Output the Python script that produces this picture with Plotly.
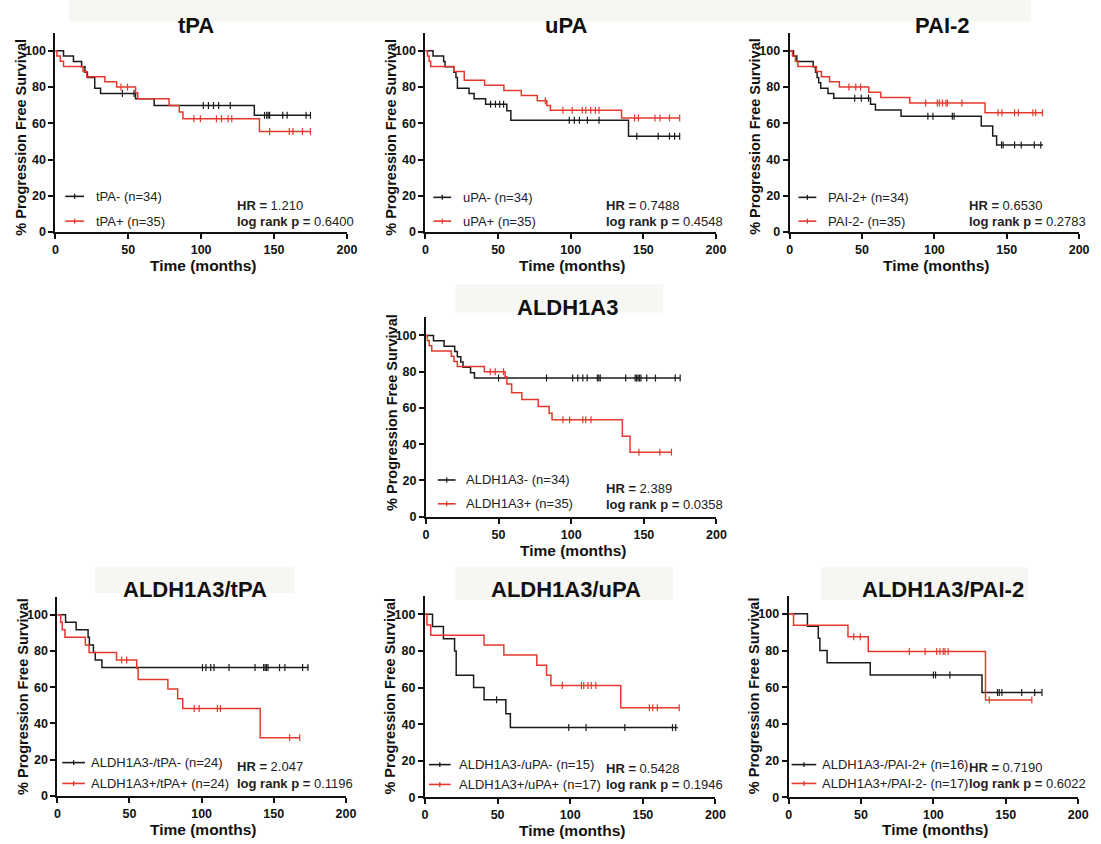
import plotly.graph_objects as go

W, H = 1101, 844
BLACK = "#1b1b1b"
RED = "#e5392d"
FONT = "Liberation Sans, Arial, sans-serif"

# ---------------- data ----------------
# Panel 1: tPA
tpa_neg_t = [0, 5.6, 12.4, 18, 20.3, 22, 27, 31, 55, 67.8, 136.5, 175]
tpa_neg_s = [100, 97.1, 94.1, 91.2, 88.2, 85.3, 79.4, 76.5, 73.5, 69.8, 64.4, 64.4]
tpa_neg_c = [46, 54, 101.5, 105, 108.5, 112, 120, 143.5, 145, 146, 147, 156, 159, 172, 175]
tpa_pos_t = [0, 1, 3.4, 5.6, 19, 21.5, 34, 42, 55, 56.5, 78, 85, 87.5, 140, 175]
tpa_pos_s = [100, 97.1, 94.3, 91.4, 88.6, 85.7, 82.9, 80.0, 76.9, 73.5, 69.8, 66.2, 62.5, 55.5, 55.5]
tpa_pos_c = [45, 49.5, 95, 99.5, 110.5, 114, 118.5, 121, 147, 160.5, 163, 169.5, 175]

# Panel 2: uPA
upa_neg_t = [0, 5.2, 12.5, 13.5, 19.5, 21, 22, 30, 33.5, 41.4, 56, 58.8, 139.8, 175]
upa_neg_s = [100, 97.1, 94.1, 91.2, 88.2, 85.3, 79.4, 76.5, 73.5, 70.6, 67.0, 61.7, 52.9, 52.9]
upa_neg_c = [44.8, 48.2, 51.1, 53.8, 99, 102.5, 106, 111.5, 119.5, 145.5, 160.2, 168, 171.5, 175]
upa_pos_t = [0, 1.4, 2.5, 3.6, 19.5, 26.7, 40.7, 54, 66, 77, 83.5, 86, 135, 175]
upa_pos_s = [100, 97.1, 94.3, 91.4, 88.6, 83.8, 81.0, 78.1, 75.3, 72.5, 69.8, 67.2, 63.0, 63.0]
upa_pos_c = [82.5, 94.6, 101, 108, 110.4, 113.8, 117, 119.5, 144, 146.6, 158, 161.5, 168, 175]

# Panel 3: PAI-2
pai_pos_t = [0, 2.7, 5, 16.3, 17.9, 19, 20.1, 21.5, 26.5, 30.5, 55.9, 59.3, 77, 132.4, 140.3, 143, 175]
pai_pos_s = [100, 97.1, 94.1, 91.2, 88.2, 85.3, 82.4, 79.4, 76.5, 73.9, 70.6, 67.4, 63.9, 58.5, 53.0, 48.1, 48.1]
pai_pos_c = [45, 49.5, 54.5, 95.5, 99, 112.4, 113.6, 146.4, 147.5, 155.4, 160, 169, 173.5]
pai_neg_t = [0, 2, 4, 5.7, 18.5, 22, 27.6, 34.4, 54.7, 63, 83, 135, 175]
pai_neg_s = [100, 97.1, 94.3, 91.4, 88.6, 85.7, 82.9, 80.0, 77.1, 74.3, 71.2, 65.8, 65.8]
pai_neg_c = [41, 45.7, 49, 94, 102, 103.4, 105.6, 108, 109, 119, 144, 146.6, 155.4, 158, 168, 170, 174.7]

# Panel 4: ALDH1A3
ald_neg_t = [0, 5.2, 12.5, 19.8, 21.6, 24, 25.5, 30.7, 33.4, 175]
ald_neg_s = [100, 97.1, 94.1, 91.2, 88.2, 85.3, 82.4, 79.4, 76.5, 76.5]
ald_neg_c = [50, 83, 101, 104.5, 108, 111, 118, 119, 120, 137.5, 144, 145, 146, 147, 148, 152, 158, 171.6, 175]
ald_pos_t = [0, 1, 2.3, 4, 17.5, 19.3, 21.6, 40.2, 54.5, 55.7, 59, 66, 77.3, 84.8, 86.8, 135.2, 140.5, 169]
ald_pos_s = [100, 97.1, 94.3, 91.4, 88.6, 85.7, 82.9, 80.0, 77.2, 73.2, 68.4, 64.6, 60.8, 57.1, 53.5, 44.4, 35.6, 35.6]
ald_pos_c = [44.3, 47.7, 53.4, 94.3, 98.9, 108, 110, 113.6, 146.6, 161, 169]

# Panel 5: ALDH1A3/tPA
at_neg_t = [0, 5.7, 13, 21.3, 22.2, 25, 26.3, 30.9, 174]
at_neg_s = [100, 95.8, 91.7, 87.5, 83.3, 79.2, 75.0, 70.8, 70.8]
at_neg_c = [100.6, 103, 106.3, 108.6, 119, 137, 143, 144, 145, 146, 154, 157.7, 170, 173.7]
at_pos_t = [0, 2.3, 3.4, 5.3, 19.4, 22, 41, 55, 56, 76.6, 83.4, 86.9, 140.6, 168]
at_pos_s = [100, 95.8, 91.7, 87.5, 83.3, 79.2, 75.0, 70.5, 64.3, 59.0, 53.6, 48.2, 32.1, 32.1]
at_pos_c = [44.6, 48, 94.9, 98.3, 110.9, 113, 161, 168]

# Panel 6: ALDH1A3/uPA
au_neg_t = [0, 5.2, 12.7, 20.4, 21.5, 33.5, 40.7, 55.7, 58.8, 174]
au_neg_s = [100, 93.3, 86.7, 80.0, 66.7, 60.0, 53.3, 45.7, 38.1, 38.1]
au_neg_c = [49.3, 99, 110.9, 137.6, 170.4, 172.6]
au_pos_t = [0, 1.4, 4, 40.7, 54.3, 77, 83.7, 86.7, 134.8, 175]
au_pos_s = [100, 94.1, 88.6, 83.3, 77.8, 72.2, 66.7, 61.1, 48.9, 48.9]
au_pos_c = [94.6, 107.7, 109.3, 112.2, 114.5, 117.6, 154.5, 156.8, 160, 175]

# Panel 7: ALDH1A3/PAI-2
ap_neg_t = [0, 13, 20.5, 21.6, 26.6, 56.4, 133.6, 175]
ap_neg_s = [100, 93.3, 86.7, 80.0, 73.3, 66.7, 57.1, 57.1]
ap_neg_c = [100, 101.5, 111.4, 144.3, 145.5, 147.3, 161, 170, 175]
ap_pos_t = [0, 3.4, 41, 55, 136, 168]
ap_pos_s = [100, 93.8, 87.5, 79.5, 53.0, 53.0]
ap_pos_c = [45, 49.5, 83.4, 94.3, 102.3, 104.5, 106.8, 108, 110.2, 138.6, 168]

panel_titles = ["tPA", "uPA", "PAI-2", "ALDH1A3", "ALDH1A3/tPA", "ALDH1A3/uPA", "ALDH1A3/PAI-2"]
legend_black = ["tPA- (n=34)", "uPA- (n=34)", "PAI-2+ (n=34)", "ALDH1A3- (n=34)",
                "ALDH1A3-/tPA- (n=24)", "ALDH1A3-/uPA- (n=15)", "ALDH1A3-/PAI-2+ (n=16)"]
legend_red = ["tPA+ (n=35)", "uPA+ (n=35)", "PAI-2- (n=35)", "ALDH1A3+ (n=35)",
              "ALDH1A3+/tPA+ (n=24)", "ALDH1A3+/uPA+ (n=17)", "ALDH1A3+/PAI-2- (n=17)"]
hr_values = ["1.210", "0.7488", "0.6530", "2.389", "2.047", "0.5428", "0.7190"]
p_values = ["0.6400", "0.4548", "0.2783", "0.0358", "0.1196", "0.1946", "0.6022"]
x_ticks = [0, 50, 100, 150, 200]
y_ticks = [0, 20, 40, 60, 80, 100]

black_curves = [(tpa_neg_t, tpa_neg_s, tpa_neg_c), (upa_neg_t, upa_neg_s, upa_neg_c),
                (pai_pos_t, pai_pos_s, pai_pos_c), (ald_neg_t, ald_neg_s, ald_neg_c),
                (at_neg_t, at_neg_s, at_neg_c), (au_neg_t, au_neg_s, au_neg_c),
                (ap_neg_t, ap_neg_s, ap_neg_c)]
red_curves = [(tpa_pos_t, tpa_pos_s, tpa_pos_c), (upa_pos_t, upa_pos_s, upa_pos_c),
              (pai_neg_t, pai_neg_s, pai_neg_c), (ald_pos_t, ald_pos_s, ald_pos_c),
              (at_pos_t, at_pos_s, at_pos_c), (au_pos_t, au_pos_s, au_pos_c),
              (ap_pos_t, ap_pos_s, ap_pos_c)]

# ---------------- layout geometry (pixels) ----------------
# plot frame: left(x=0), right(x=200), top(y=110), bottom(y=0)
frames = [(53, 348, 33, 234), (427.5, 721.5, 33, 234), (796, 1089, 33, 234),
          (428, 722, 320, 521),
          (55, 347, 601.5, 802.7), (427, 721, 601, 804), (795, 1088, 600.5, 804)]
title_pos = [(195, 25.5), (570, 25.5), (951, 25.5), (571, 310), (194, 594.5), (570, 594.5), (951, 594.5)]
title_boxes = [(67, 1040, 0, 22), (458, 668, 287, 315), (93, 295, 572, 598), (458, 678, 572, 605), (828, 1037, 572, 605)]
ytitle_cy = [138, 138, 138, 416, 702, 702, 702]
xtitle_y = [268, 268, 268, 555, 836, 837, 836]
# legend: (line x0 offset, line x1 offset, text offset, row1 y, row2 y, hr offset, hr y1, hr y2)
legend_geo = [(10, 29, 39, 198, 223, 182, 207, 223),
              (8, 26, 36, 199, 223, 181, 207, 223),
              (9, 27, 37, 199, 223, 180, 207, 223),
              (12, 30, 39, 484, 508, 180, 493, 509),
              (5, 28, 32, 769, 790, 180, 773, 790),
              (4, 26, 32, 771, 791, 181, 775, 791),
              (3, 28, 32, 771, 790, 181, 774, 790)]


def px(x):
    return x / W


def py(y):
    return 1 - y / H


def step_value(ts, ss, t):
    v = ss[0]
    for ti, si in zip(ts, ss):
        if ti <= t:
            v = si
        else:
            break
    return v


fig = go.Figure()
shapes = []
annotations = []

for bx0, bx1, by0, by1 in title_boxes:
    shapes.append(dict(type="rect", xref="paper", yref="paper", x0=px(bx0), x1=px(bx1),
                       y0=py(by1), y1=py(by0), fillcolor="#f6f6f3", line=dict(width=0), layer="below"))

for i in range(7):
    k = "" if i == 0 else str(i + 1)
    xa, ya = "x" + k, "y" + k
    l, r, t, b = frames[i]
    for (ts, ss, cs), col in ((black_curves[i], BLACK), (red_curves[i], RED)):
        fig.add_trace(go.Scatter(x=ts, y=ss, mode="lines", line=dict(color=col, width=1.5, shape="hv"),
                                 xaxis=xa, yaxis=ya, showlegend=False, hoverinfo="skip"))
        fig.add_trace(go.Scatter(x=cs, y=[step_value(ts, ss, c) for c in cs], mode="markers",
                                 marker=dict(symbol="line-ns", size=5, line=dict(color=col, width=1.2)),
                                 xaxis=xa, yaxis=ya, showlegend=False, hoverinfo="skip", cliponaxis=False))
    axcommon = dict(showline=True, linewidth=2, linecolor="#111", ticks="outside", ticklen=5,
                    tickwidth=2, tickcolor="#111", showgrid=False, zeroline=False,
                    tickfont=dict(family=FONT, size=12.5, color="#111", weight="bold"))
    fig.update_layout(**{
        "xaxis" + k: dict(domain=[px(l), px(r)], range=[0, 200], tickvals=x_ticks, anchor=ya, **axcommon),
        "yaxis" + k: dict(domain=[py(b), py(t)], range=[0, 110], tickvals=y_ticks, anchor=xa, **axcommon),
    })
    # titles
    tx, ty = title_pos[i]
    annotations.append(dict(text=panel_titles[i], x=px(tx), y=py(ty), xref="paper", yref="paper",
                            showarrow=False, xanchor="center", yanchor="middle",
                            font=dict(family=FONT, size=22, color="#111", weight="bold")))
    annotations.append(dict(text="% Progression Free Survival", x=px(l - 35), y=py(ytitle_cy[i]),
                            xref="paper", yref="paper", showarrow=False, textangle=-90,
                            xanchor="center", yanchor="middle",
                            font=dict(family=FONT, size=14.5, color="#111", weight="bold")))
    annotations.append(dict(text="Time (months)", x=px((l + r) / 2 + 2), y=py(xtitle_y[i]),
                            xref="paper", yref="paper", showarrow=False, xanchor="center", yanchor="middle",
                            font=dict(family=FONT, size=15.5, color="#111", weight="bold")))
    # legend
    lx0, lx1, ltx, ly1, ly2, hx, hy1, hy2 = legend_geo[i]
    for yy, col, lab in ((ly1, BLACK, legend_black[i]), (ly2, RED, legend_red[i])):
        shapes.append(dict(type="line", xref="paper", yref="paper", x0=px(l + lx0), x1=px(l + lx1),
                           y0=py(yy), y1=py(yy), line=dict(color=col, width=1.6)))
        mx = l + (lx0 + lx1) / 2
        shapes.append(dict(type="line", xref="paper", yref="paper", x0=px(mx), x1=px(mx),
                           y0=py(yy + 2.5), y1=py(yy - 2.5), line=dict(color=col, width=1.3)))
        annotations.append(dict(text=lab, x=px(l + ltx), y=py(yy), xref="paper", yref="paper",
                                showarrow=False, xanchor="left", yanchor="middle",
                                font=dict(family=FONT, size=13, color="#222")))
    annotations.append(dict(text="<b>HR =</b> " + hr_values[i], x=px(l + hx), y=py(hy1),
                            xref="paper", yref="paper", showarrow=False, xanchor="left", yanchor="middle",
                            font=dict(family=FONT, size=13, color="#222")))
    annotations.append(dict(text="<b>log rank p =</b> " + p_values[i], x=px(l + hx), y=py(hy2),
                            xref="paper", yref="paper", showarrow=False, xanchor="left", yanchor="middle",
                            font=dict(family=FONT, size=13, color="#222")))

fig.update_layout(width=W, height=H, margin=dict(l=0, r=0, t=0, b=0),
                  paper_bgcolor="white", plot_bgcolor="white",
                  shapes=shapes, annotations=annotations, showlegend=False)

fig.write_html("out.html", config={"displayModeBar": False, "staticPlot": True},
               post_script="document.body.style.margin='0';document.body.style.padding='0';"
                           "document.body.style.overflow='hidden';")
